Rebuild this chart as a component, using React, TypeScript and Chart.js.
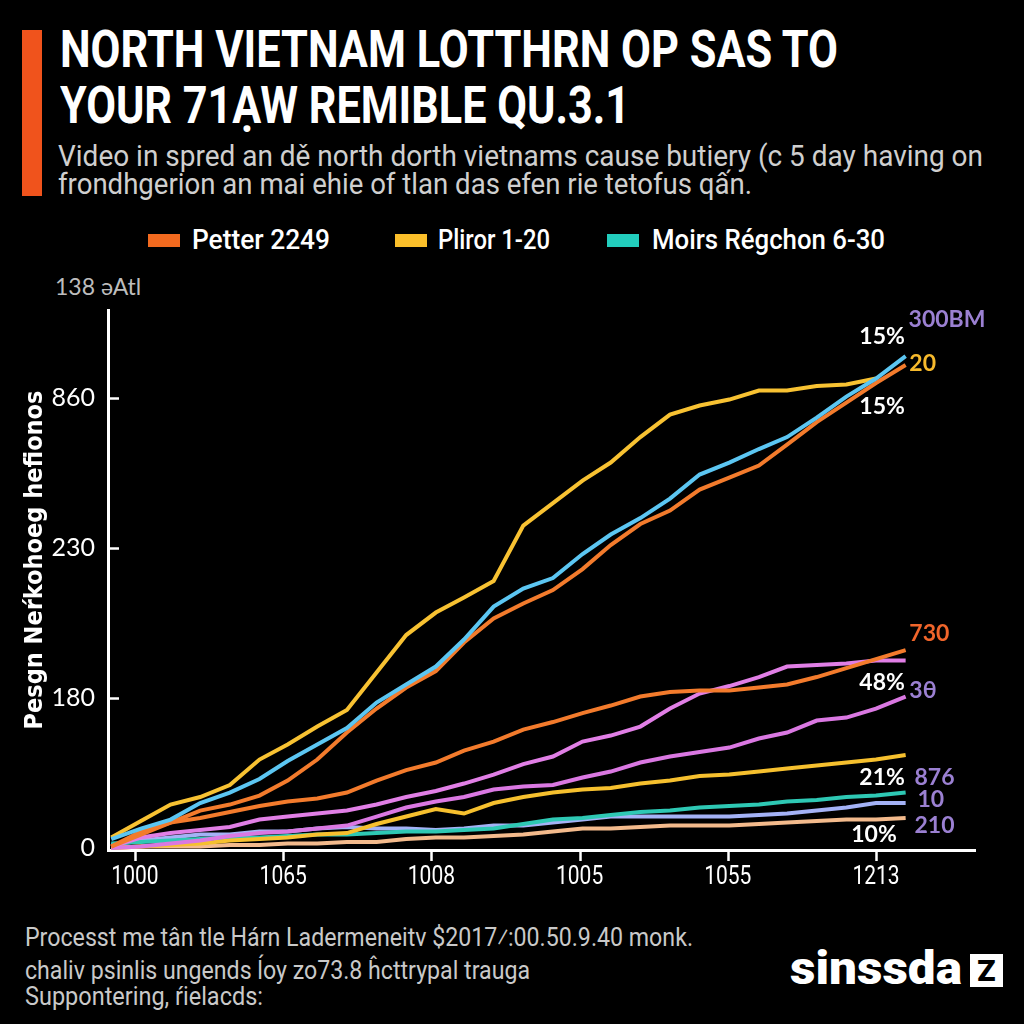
import React, { useEffect, useLayoutEffect, useRef } from "react";
import { Chart, registerables } from "chart.js";

Chart.register(...registerables);

// ---------- data ----------
const xPositions = [-0.16, 0.04, 0.24, 0.44, 0.64, 0.84, 1.03, 1.23, 1.43, 1.63, 1.83, 2.03, 2.22, 2.42, 2.62, 2.82, 3.02, 3.21, 3.41, 3.61, 3.81, 4.01, 4.21, 4.4, 4.6, 4.8, 5.0, 5.2];
const xTickLabels = ["1000", "1065", "1008", "1005", "1055", "1213"];
const yTickLabels = ["0", "180", "230", "860"];

const yellowTop = [7, 18, 29, 34, 42, 59, 69, 81, 92, 117, 142, 157, 167, 178, 215, 230, 245, 257, 274, 289, 295, 299, 305, 305, 308, 309, 313, null];
const cyan = [6, 13, 19, 30, 37, 46, 58, 69, 80, 97, 109, 121, 139, 161, 173, 180, 196, 209, 220, 233, 249, 257, 266, 274, 287, 301, 313, 328];
const orangeTop = [1, 11, 17, 25, 29, 35, 45, 59, 77, 93, 107, 118, 137, 153, 163, 172, 186, 202, 216, 225, 239, 247, 255, 269, 284, 297, 310, 322];
const orangeMid = [1, 9, 17, 20, 24, 28, 31, 33, 37, 45, 52, 57, 65, 71, 79, 84, 90, 95, 101, 104, 105, 105, 107, 109, 114, 120, 126, 132];
const pinkUpper = [1, 7, 10, 12, 14, 19, 21, 23, 25, 29, 34, 38, 43, 49, 56, 61, 71, 75, 81, 93, 103, 108, 114, 121, 122, 123, 125, 125];
const pinkLower = [0, 1, 3, 5, 8, 10, 11, 13, 15, 21, 27, 31, 34, 39, 41, 42, 47, 51, 57, 61, 64, 67, 73, 77, 85, 87, 93, 101];
const yellowLow = [0, 1, 2, 3, 5, 6, 7, 9, 10, 16, 21, 26, 23, 30, 34, 37, 39, 40, 43, 45, 48, 49, 51, 53, 55, 57, 59, 62];
const teal = [3, 4, 5, 6, 7, 7, 8, 9, 9, 10, 11, 11, 12, 13, 16, 19, 20, 22, 24, 25, 27, 28, 29, 31, 32, 34, 35, 37];
const lavender = [2, 5, 7, 9, 9, 11, 11, 13, 14, 13, 13, 12, 13, 15, 15, 17, 19, 21, 21, 21, 21, 21, 22, 23, 25, 27, 30, 30];
const peach = [0, 1, 1, 1, 2, 2, 3, 3, 4, 4, 6, 7, 7, 8, 9, 11, 13, 13, 14, 15, 15, 15, 16, 17, 18, 19, 19, 20];

const legendNames = ["Petter 2249", "Pliror 1-20", "Moirs Régchon 6-30"];
const legendColors = ["#f26a1f", "#fbbf2a", "#22cdbd"];

const PURPLE = "#9b80d2";
const endLabels = [
  { text: "300BM", color: PURPLE, x: 5.22, y: 352, align: "left" },
  { text: "15%", color: "#ffffff", x: 5.195, y: 341, align: "right" },
  { text: "20", color: "#f6b92c", x: 5.225, y: 323, align: "left" },
  { text: "15%", color: "#ffffff", x: 5.195, y: 294, align: "right" },
  { text: "730", color: "#f0652b", x: 5.225, y: 143, align: "left" },
  { text: "48%", color: "#ffffff", x: 5.195, y: 110, align: "right" },
  { text: "3θ", color: PURPLE, x: 5.225, y: 105, align: "left" },
  { text: "21%", color: "#ffffff", x: 5.195, y: 47, align: "right" },
  { text: "876", color: PURPLE, x: 5.26, y: 47, align: "left" },
  { text: "10", color: PURPLE, x: 5.28, y: 32, align: "left" },
  { text: "210", color: PURPLE, x: 5.26, y: 15, align: "left" },
  { text: "10%", color: "#ffffff", x: 5.14, y: 9, align: "right" },
];

const SANS = 'Roboto, "Liberation Sans", Arial, sans-serif';
const CONDENSED = '"DejaVu Sans Condensed", "DejaVu Sans", sans-serif';
const GEO = 'Lato, "Open Sans", sans-serif';

const seriesDefs = [
  { data: cyan, color: "#5cc6f2" },
  { data: orangeTop, color: "#f37b2c" },
  { data: yellowTop, color: "#f8c232" },
  { data: orangeMid, color: "#f37b2c" },
  { data: pinkUpper, color: "#e17fe6" },
  { data: pinkLower, color: "#da78e2" },
  { data: yellowLow, color: "#f6c02e" },
  { data: teal, color: "#2ec8b4" },
  { data: lavender, color: "#a4b2f6" },
  { data: peach, color: "#f3ba8c" },
];

const decorPlugin = {
  id: "decor",
  afterDraw(chart: any) {
    const { ctx, chartArea, scales } = chart;
    const xs = scales.x;
    const ys = scales.y;
    ctx.save();
    ctx.strokeStyle = "#ffffff";
    ctx.lineWidth = 2.5;
    xTickLabels.forEach((_, i) => {
      const px = Math.round(xs.getPixelForValue(i)) + 0.5;
      ctx.beginPath();
      ctx.moveTo(px, chartArea.bottom);
      ctx.lineTo(px, chartArea.bottom + 11);
      ctx.stroke();
    });
    yTickLabels.forEach((_, i) => {
      if (i === 0) return;
      const py = Math.round(ys.getPixelForValue(i * 100)) + 0.5;
      ctx.beginPath();
      ctx.moveTo(chartArea.left, py);
      ctx.lineTo(chartArea.left + 11, py);
      ctx.stroke();
    });
    ctx.restore();

    // x tick labels (condensed)
    ctx.save();
    ctx.fillStyle = "#ffffff";
    ctx.font = `25px ${SANS}`;
    ctx.textAlign = "center";
    ctx.textBaseline = "middle";
    xTickLabels.forEach((lab, i) => {
      ctx.save();
      ctx.translate(xs.getPixelForValue(i), chartArea.bottom + 28);
      ctx.scale(0.84, 1);
      ctx.fillText(lab, 0, 0);
      ctx.restore();
    });
    ctx.restore();

    // y axis title
    ctx.save();
    ctx.translate(35, (chartArea.top + chartArea.bottom) / 2 - 20);
    ctx.rotate(-Math.PI / 2);
    ctx.fillStyle = "#ffffff";
    ctx.font = `bold 25px ${CONDENSED}`;
    ctx.textAlign = "center";
    ctx.textBaseline = "middle";
    ctx.fillText("Pesgn Neŕkohoeg hefionos", 0, 0);
    ctx.restore();

    // end labels
    ctx.save();
    ctx.font = `bold 23px ${GEO}`;
    ctx.textBaseline = "middle";
    endLabels.forEach((l) => {
      ctx.fillStyle = l.color;
      ctx.textAlign = l.align as CanvasTextAlign;
      ctx.fillText(l.text, xs.getPixelForValue(l.x), ys.getPixelForValue(l.y));
    });
    ctx.restore();
  },
};

function Fit(props: { width: number; left: number; top: number; style: React.CSSProperties; children: React.ReactNode }) {
  const r = useRef<HTMLSpanElement>(null);
  useLayoutEffect(() => {
    const el = r.current;
    if (!el) return;
    el.style.transform = "none";
    const w = el.getBoundingClientRect().width;
    if (w > 0) el.style.transform = `scaleX(${props.width / w})`;
  }, [props.width]);
  return (
    <span
      ref={r}
      style={{
        position: "absolute",
        left: props.left,
        top: props.top,
        display: "inline-block",
        whiteSpace: "nowrap",
        transformOrigin: "0 0",
        ...props.style,
      }}
    >
      {props.children}
    </span>
  );
}

export default function App() {
  const ref = useRef<HTMLCanvasElement>(null);
  useEffect(() => {
    document.body.style.margin = "0";
    document.body.style.background = "#000";
    const chart = new Chart(ref.current as HTMLCanvasElement, {
      type: "line",
      data: {
        datasets: seriesDefs.map((s) => ({
          data: s.data.map((v, i) => ({ x: xPositions[i], y: v })) as any,
          borderColor: s.color,
          backgroundColor: s.color,
          borderWidth: 4,
          pointRadius: 0,
          tension: 0,
          fill: false,
        })),
      },
      options: {
        animation: false,
        responsive: false,
        devicePixelRatio: 1,
        layout: { padding: { top: 50, right: 49, left: 0, bottom: 0 } },
        plugins: { legend: { display: false }, tooltip: { enabled: false } },
        scales: {
          x: {
            type: "linear",
            min: -0.182,
            max: 5.668,
            grid: { display: false, drawTicks: false },
            border: { display: true, color: "#ffffff", width: 3 },
            afterBuildTicks: (s: any) => {
              s.ticks = xTickLabels.map((_, i) => ({ value: i }));
            },
            afterFit: (s: any) => {
              s.height = 70;
            },
            ticks: { display: false },
          },
          y: {
            type: "linear",
            min: -1.3,
            max: 358.7,
            grid: { display: false, drawTicks: false },
            border: { display: true, color: "#ffffff", width: 3 },
            afterBuildTicks: (s: any) => {
              s.ticks = yTickLabels.map((_, i) => ({ value: i * 100 }));
            },
            afterFit: (s: any) => {
              s.width = 108;
            },
            ticks: {
              color: "#ffffff",
              padding: 13,
              autoSkip: false,
              font: { family: GEO, size: 25 },
              callback: (v: any) => yTickLabels[Math.round(Number(v) / 100)] ?? "",
            },
          },
        },
      },
      plugins: [decorPlugin],
    });
    return () => chart.destroy();
  }, []);

  const titleStyle: React.CSSProperties = {
    fontFamily: SANS,
    fontWeight: 700,
    fontSize: 52,
    lineHeight: "57px",
    color: "#ffffff",
  };
  const subStyle: React.CSSProperties = {
    fontFamily: SANS,
    fontWeight: 400,
    fontSize: 29,
    lineHeight: "29px",
    color: "#cfcfcf",
  };
  const footStyle: React.CSSProperties = {
    fontFamily: SANS,
    fontWeight: 400,
    fontSize: 26,
    lineHeight: "28px",
    color: "#c9c9c9",
  };

  return (
    <div
      style={{
        position: "fixed",
        left: 0,
        top: 0,
        width: 1024,
        height: 1024,
        background: "#000",
        overflow: "hidden",
      }}
    >
      <div style={{ position: "absolute", left: 22, top: 30, width: 20, height: 166, background: "#f0531c" }} />
      <Fit width={778} left={60} top={21} style={titleStyle}>NORTH VIETNAM LOTTHRN OP SAS TO</Fit>
      <Fit width={570} left={60} top={77} style={titleStyle}>YOUR 71ẠW REMIBLE QU.3.1</Fit>
      <Fit width={925} left={58} top={142} style={subStyle}>
        Video in spred an dě north dorth vietnams cause butiery (c 5 day having on
      </Fit>
      <Fit width={694} left={58} top={170} style={subStyle}>
        frondhgerion an mai ehie of tlan das efen rie tetofus qấn.
      </Fit>

      {legendNames.map((name, i) => (
        <React.Fragment key={name}>
          <div
            style={{
              position: "absolute",
              left: [148, 395, 607][i],
              top: 234,
              width: 32,
              height: 13,
              background: legendColors[i],
            }}
          />
          <Fit
            width={[138, 112, 233][i]}
            left={[192, 438, 652][i]}
            top={224}
            style={{ fontFamily: SANS, fontWeight: 500, fontSize: 28, lineHeight: "32px", color: "#ffffff" }}
          >
            {name}
          </Fit>
        </React.Fragment>
      ))}

      <div style={{ position: "absolute", left: 55, top: 272, fontFamily: GEO, fontSize: 23, color: "#bdbdbd", whiteSpace: "nowrap" }}>
        138 əAtl
      </div>

      <canvas
        ref={ref}
        width={1024}
        height={660}
        style={{ position: "absolute", left: 0, top: 260, width: 1024, height: 660 }}
      />

      <Fit width={668} left={25} top={923} style={footStyle}>
        Processt me tân tle Hárn Ladermeneitv $2017⁄:00.50.9.40 monk.
      </Fit>
      <Fit width={505} left={25} top={956} style={footStyle}>
        chaliv psinlis ungends ĺoy zo73.8 ĥcttrypal trauga
      </Fit>
      <Fit width={238} left={25} top={982} style={footStyle}>
        Suppontering, ŕielacds:
      </Fit>

      <Fit width={172} left={790} top={943} style={{ fontFamily: SANS, fontWeight: 900, fontSize: 46, lineHeight: "50px", color: "#ffffff" }}>
        sinssda
      </Fit>
      <div
        style={{
          position: "absolute",
          left: 970,
          top: 954,
          width: 33,
          height: 33,
          background: "#ffffff",
          color: "#000",
          fontFamily: SANS,
          fontWeight: 900,
          fontSize: 30,
          lineHeight: "33px",
          textAlign: "center",
        }}
      >
        Z
      </div>
    </div>
  );
}
